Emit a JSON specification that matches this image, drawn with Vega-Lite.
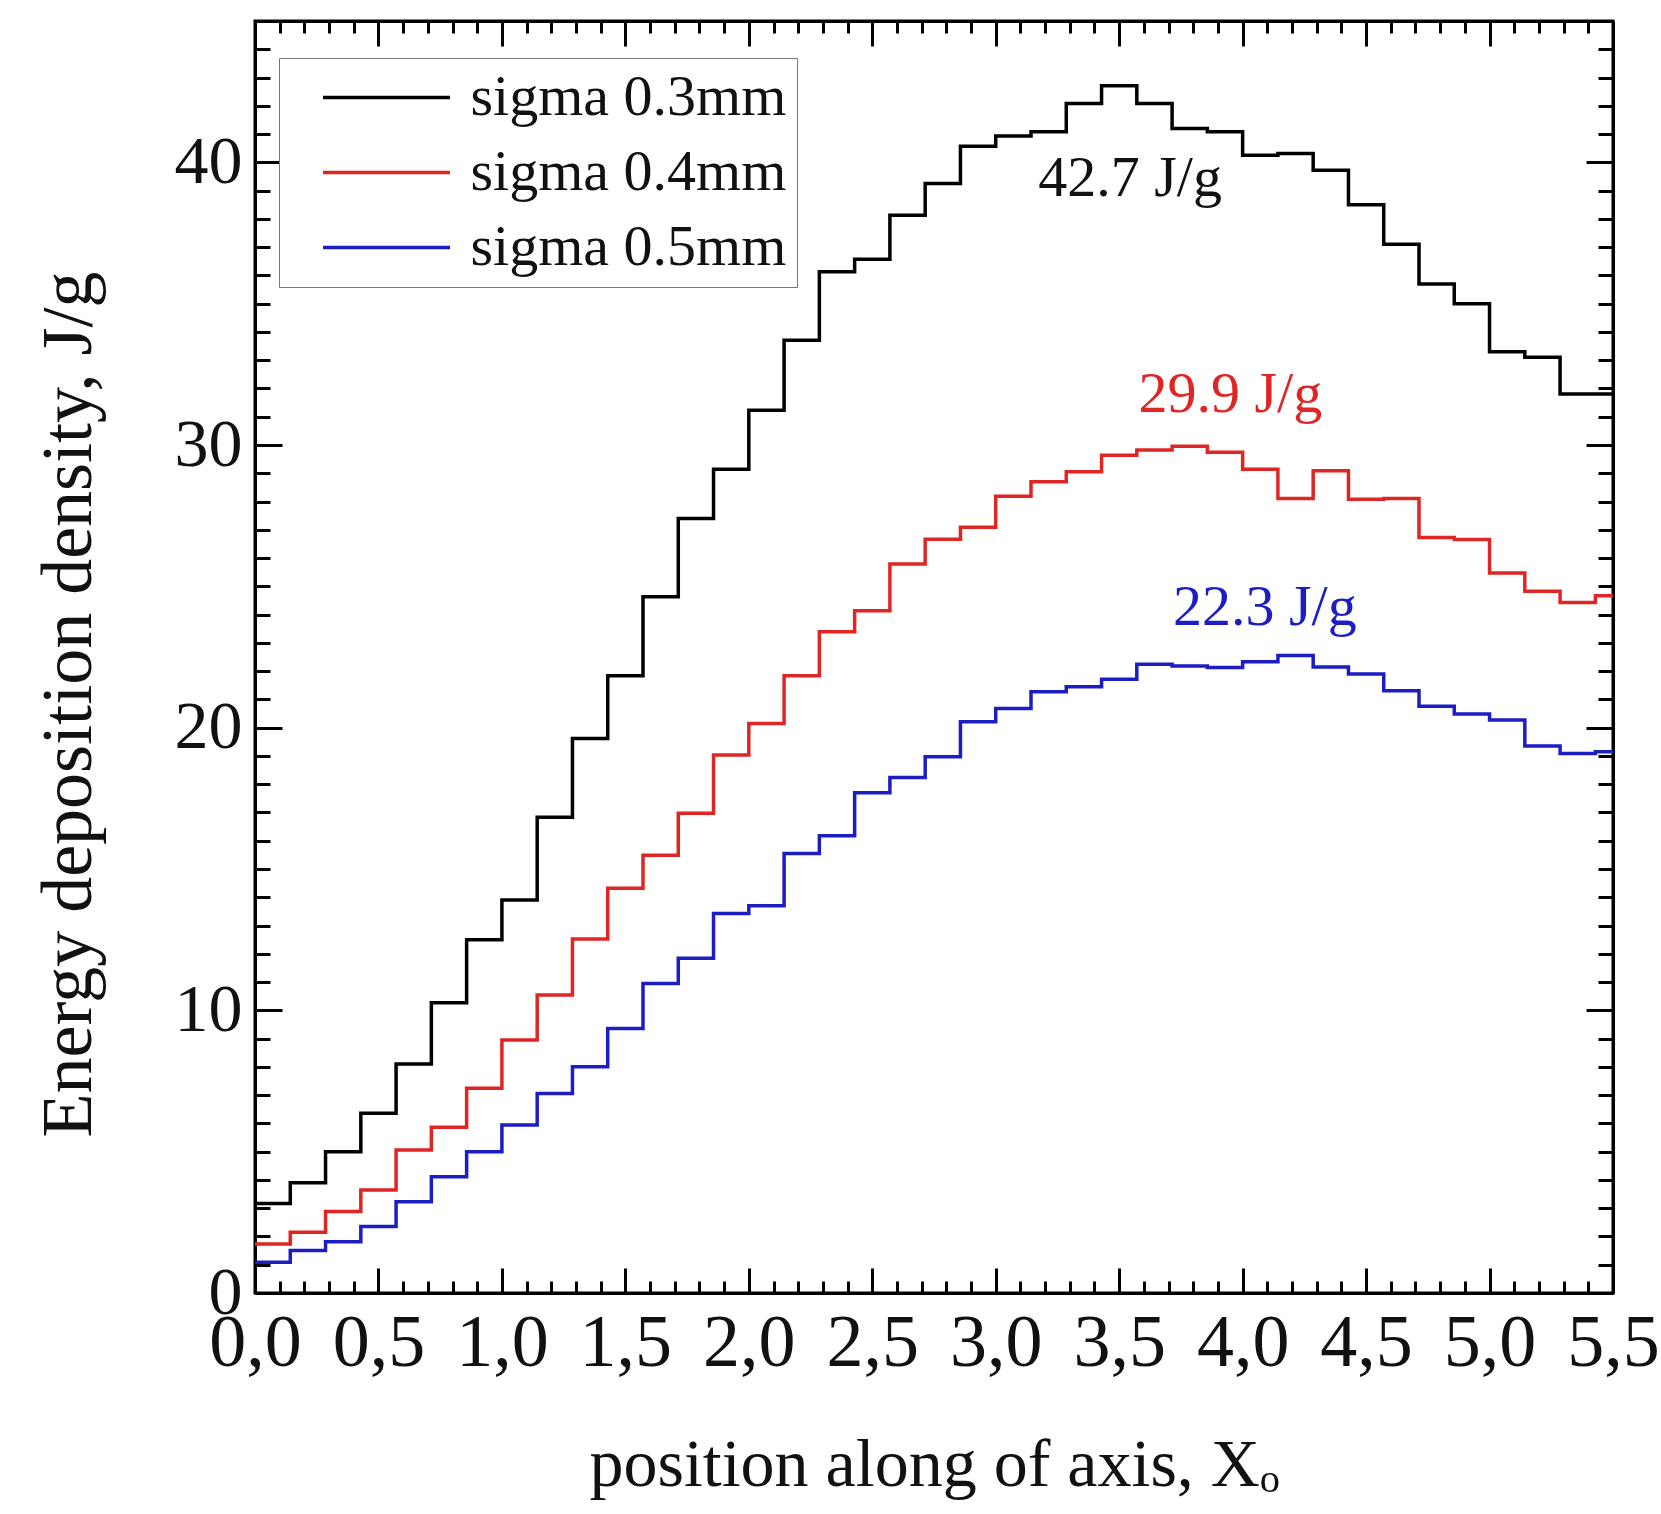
{
  "$schema": "https://vega.github.io/schema/vega-lite/v6.json",
  "width": 1358,
  "height": 1272,
  "autosize": {"type": "none"},
  "padding": {"left": 255, "top": 21, "right": 48, "bottom": 221},
  "background": "white",
  "config": {
    "view": {"stroke": "black", "strokeWidth": 3},
    "font": "Liberation Serif",
    "axis": {
      "grid": false,
      "domainColor": "black",
      "domainWidth": 3,
      "tickColor": "black",
      "tickWidth": 3,
      "labelFont": "Liberation Serif",
      "labelColor": "#111111",
      "titleFont": "Liberation Serif",
      "titleFontWeight": "normal",
      "titleColor": "#111111",
      "labelFlush": false,
      "labelOverlap": false
    }
  },
  "datasets": {
    "series": [
      {"x": 0, "s": "sigma 0.3mm", "e": 3.17},
      {"x": 0.1429, "s": "sigma 0.3mm", "e": 3.9},
      {"x": 0.2857, "s": "sigma 0.3mm", "e": 5.0},
      {"x": 0.4286, "s": "sigma 0.3mm", "e": 6.36},
      {"x": 0.5714, "s": "sigma 0.3mm", "e": 8.1},
      {"x": 0.7143, "s": "sigma 0.3mm", "e": 10.27},
      {"x": 0.8571, "s": "sigma 0.3mm", "e": 12.5},
      {"x": 1, "s": "sigma 0.3mm", "e": 13.9},
      {"x": 1.1429, "s": "sigma 0.3mm", "e": 16.83},
      {"x": 1.2857, "s": "sigma 0.3mm", "e": 19.62},
      {"x": 1.4286, "s": "sigma 0.3mm", "e": 21.84},
      {"x": 1.5714, "s": "sigma 0.3mm", "e": 24.63},
      {"x": 1.7143, "s": "sigma 0.3mm", "e": 27.4},
      {"x": 1.8571, "s": "sigma 0.3mm", "e": 29.14},
      {"x": 2, "s": "sigma 0.3mm", "e": 31.23},
      {"x": 2.1429, "s": "sigma 0.3mm", "e": 33.71},
      {"x": 2.2857, "s": "sigma 0.3mm", "e": 36.13},
      {"x": 2.4286, "s": "sigma 0.3mm", "e": 36.57},
      {"x": 2.5714, "s": "sigma 0.3mm", "e": 38.13},
      {"x": 2.7143, "s": "sigma 0.3mm", "e": 39.25},
      {"x": 2.8571, "s": "sigma 0.3mm", "e": 40.57},
      {"x": 3, "s": "sigma 0.3mm", "e": 40.93},
      {"x": 3.1429, "s": "sigma 0.3mm", "e": 41.08},
      {"x": 3.2857, "s": "sigma 0.3mm", "e": 42.08},
      {"x": 3.4286, "s": "sigma 0.3mm", "e": 42.71},
      {"x": 3.5714, "s": "sigma 0.3mm", "e": 42.08},
      {"x": 3.7143, "s": "sigma 0.3mm", "e": 41.2},
      {"x": 3.8571, "s": "sigma 0.3mm", "e": 41.08},
      {"x": 4, "s": "sigma 0.3mm", "e": 40.25},
      {"x": 4.1429, "s": "sigma 0.3mm", "e": 40.31},
      {"x": 4.2857, "s": "sigma 0.3mm", "e": 39.72},
      {"x": 4.4286, "s": "sigma 0.3mm", "e": 38.5},
      {"x": 4.5714, "s": "sigma 0.3mm", "e": 37.1},
      {"x": 4.7143, "s": "sigma 0.3mm", "e": 35.7},
      {"x": 4.8571, "s": "sigma 0.3mm", "e": 35.0},
      {"x": 5, "s": "sigma 0.3mm", "e": 33.3},
      {"x": 5.1429, "s": "sigma 0.3mm", "e": 33.1},
      {"x": 5.2857, "s": "sigma 0.3mm", "e": 31.8},
      {"x": 5.4286, "s": "sigma 0.3mm", "e": 31.8},
      {"x": 5.5, "s": "sigma 0.3mm", "e": 31.8},
      {"x": 0, "s": "sigma 0.4mm", "e": 1.73},
      {"x": 0.1429, "s": "sigma 0.4mm", "e": 2.15},
      {"x": 0.2857, "s": "sigma 0.4mm", "e": 2.88},
      {"x": 0.4286, "s": "sigma 0.4mm", "e": 3.64},
      {"x": 0.5714, "s": "sigma 0.4mm", "e": 5.06},
      {"x": 0.7143, "s": "sigma 0.4mm", "e": 5.86},
      {"x": 0.8571, "s": "sigma 0.4mm", "e": 7.24},
      {"x": 1, "s": "sigma 0.4mm", "e": 8.95},
      {"x": 1.1429, "s": "sigma 0.4mm", "e": 10.54},
      {"x": 1.2857, "s": "sigma 0.4mm", "e": 12.52},
      {"x": 1.4286, "s": "sigma 0.4mm", "e": 14.32},
      {"x": 1.5714, "s": "sigma 0.4mm", "e": 15.49},
      {"x": 1.7143, "s": "sigma 0.4mm", "e": 16.97},
      {"x": 1.8571, "s": "sigma 0.4mm", "e": 19.03},
      {"x": 2, "s": "sigma 0.4mm", "e": 20.15},
      {"x": 2.1429, "s": "sigma 0.4mm", "e": 21.84},
      {"x": 2.2857, "s": "sigma 0.4mm", "e": 23.39},
      {"x": 2.4286, "s": "sigma 0.4mm", "e": 24.14},
      {"x": 2.5714, "s": "sigma 0.4mm", "e": 25.79},
      {"x": 2.7143, "s": "sigma 0.4mm", "e": 26.67},
      {"x": 2.8571, "s": "sigma 0.4mm", "e": 27.09},
      {"x": 3, "s": "sigma 0.4mm", "e": 28.19},
      {"x": 3.1429, "s": "sigma 0.4mm", "e": 28.7},
      {"x": 3.2857, "s": "sigma 0.4mm", "e": 29.05},
      {"x": 3.4286, "s": "sigma 0.4mm", "e": 29.64},
      {"x": 3.5714, "s": "sigma 0.4mm", "e": 29.82},
      {"x": 3.7143, "s": "sigma 0.4mm", "e": 29.96},
      {"x": 3.8571, "s": "sigma 0.4mm", "e": 29.74},
      {"x": 4, "s": "sigma 0.4mm", "e": 29.14},
      {"x": 4.1429, "s": "sigma 0.4mm", "e": 28.11},
      {"x": 4.2857, "s": "sigma 0.4mm", "e": 29.09},
      {"x": 4.4286, "s": "sigma 0.4mm", "e": 28.08},
      {"x": 4.5714, "s": "sigma 0.4mm", "e": 28.11},
      {"x": 4.7143, "s": "sigma 0.4mm", "e": 26.73},
      {"x": 4.8571, "s": "sigma 0.4mm", "e": 26.66},
      {"x": 5, "s": "sigma 0.4mm", "e": 25.47},
      {"x": 5.1429, "s": "sigma 0.4mm", "e": 24.83},
      {"x": 5.2857, "s": "sigma 0.4mm", "e": 24.43},
      {"x": 5.4286, "s": "sigma 0.4mm", "e": 24.67},
      {"x": 5.5, "s": "sigma 0.4mm", "e": 24.67},
      {"x": 0, "s": "sigma 0.5mm", "e": 1.09},
      {"x": 0.1429, "s": "sigma 0.5mm", "e": 1.5},
      {"x": 0.2857, "s": "sigma 0.5mm", "e": 1.81},
      {"x": 0.4286, "s": "sigma 0.5mm", "e": 2.35},
      {"x": 0.5714, "s": "sigma 0.5mm", "e": 3.23},
      {"x": 0.7143, "s": "sigma 0.5mm", "e": 4.11},
      {"x": 0.8571, "s": "sigma 0.5mm", "e": 5.0},
      {"x": 1, "s": "sigma 0.5mm", "e": 5.94},
      {"x": 1.1429, "s": "sigma 0.5mm", "e": 7.06},
      {"x": 1.2857, "s": "sigma 0.5mm", "e": 8.0},
      {"x": 1.4286, "s": "sigma 0.5mm", "e": 9.36},
      {"x": 1.5714, "s": "sigma 0.5mm", "e": 10.95},
      {"x": 1.7143, "s": "sigma 0.5mm", "e": 11.84},
      {"x": 1.8571, "s": "sigma 0.5mm", "e": 13.43},
      {"x": 2, "s": "sigma 0.5mm", "e": 13.7},
      {"x": 2.1429, "s": "sigma 0.5mm", "e": 15.55},
      {"x": 2.2857, "s": "sigma 0.5mm", "e": 16.18},
      {"x": 2.4286, "s": "sigma 0.5mm", "e": 17.7},
      {"x": 2.5714, "s": "sigma 0.5mm", "e": 18.24},
      {"x": 2.7143, "s": "sigma 0.5mm", "e": 18.97},
      {"x": 2.8571, "s": "sigma 0.5mm", "e": 20.21},
      {"x": 3, "s": "sigma 0.5mm", "e": 20.68},
      {"x": 3.1429, "s": "sigma 0.5mm", "e": 21.27},
      {"x": 3.2857, "s": "sigma 0.5mm", "e": 21.45},
      {"x": 3.4286, "s": "sigma 0.5mm", "e": 21.71},
      {"x": 3.5714, "s": "sigma 0.5mm", "e": 22.24},
      {"x": 3.7143, "s": "sigma 0.5mm", "e": 22.18},
      {"x": 3.8571, "s": "sigma 0.5mm", "e": 22.13},
      {"x": 4, "s": "sigma 0.5mm", "e": 22.33},
      {"x": 4.1429, "s": "sigma 0.5mm", "e": 22.55},
      {"x": 4.2857, "s": "sigma 0.5mm", "e": 22.15},
      {"x": 4.4286, "s": "sigma 0.5mm", "e": 21.9},
      {"x": 4.5714, "s": "sigma 0.5mm", "e": 21.31},
      {"x": 4.7143, "s": "sigma 0.5mm", "e": 20.76},
      {"x": 4.8571, "s": "sigma 0.5mm", "e": 20.48},
      {"x": 5, "s": "sigma 0.5mm", "e": 20.27},
      {"x": 5.1429, "s": "sigma 0.5mm", "e": 19.35},
      {"x": 5.2857, "s": "sigma 0.5mm", "e": 19.09},
      {"x": 5.4286, "s": "sigma 0.5mm", "e": 19.15},
      {"x": 5.5, "s": "sigma 0.5mm", "e": 19.15}
    ],
    "notes": [
      {"x": 3.544, "y": 38.8, "label": "42.7 J/g", "s": "sigma 0.3mm"},
      {"x": 3.95, "y": 31.15, "label": "29.9 J/g", "s": "sigma 0.4mm"},
      {"x": 4.09, "y": 23.63, "label": "22.3 J/g", "s": "sigma 0.5mm"}
    ]
  },
  "resolve": {"axis": {"x": "independent", "y": "independent"}},
  "layer": [
    {
      "data": {"name": "series"},
      "mark": {"type": "line", "interpolate": "step-after", "strokeWidth": 3.5, "clip": true},
      "encoding": {
        "x": {
          "field": "x", "type": "quantitative",
          "scale": {"domain": [0, 5.5], "nice": false, "zero": false},
          "axis": {
            "orient": "bottom",
            "values": [0,0.1,0.2,0.3,0.4,0.5,0.6,0.7,0.8,0.9,1,1.1,1.2,1.3,1.4,1.5,1.6,1.7,1.8,1.9,2,2.1,2.2,2.3,2.4,2.5,2.6,2.7,2.8,2.9,3,3.1,3.2,3.3,3.4,3.5,3.6,3.7,3.8,3.9,4,4.1,4.2,4.3,4.4,4.5,4.6,4.7,4.8,4.9,5,5.1,5.2,5.3,5.4,5.5],
            "labelExpr": "abs(datum.value*2 - round(datum.value*2)) < 0.001 ? replace(format(datum.value, '.1f'), '.', ',') : ''",
            "tickSize": {"condition": {"test": "abs(datum.value*2 - round(datum.value*2)) < 0.001", "value": -25}, "value": -12},
            "labelFontSize": 74,
            "labelPadding": 39,
            "labelBaseline": "top",
            "title": "position along of axis, Xₒ",
            "titleFontSize": 68,
            "titleBaseline": "alphabetic",
            "titleY": 192
          }
        },
        "y": {
          "field": "e", "type": "quantitative",
          "scale": {"domain": [0, 45], "nice": false, "zero": true},
          "axis": {
            "orient": "left",
            "values": [0,1,2,3,4,5,6,7,8,9,10,11,12,13,14,15,16,17,18,19,20,21,22,23,24,25,26,27,28,29,30,31,32,33,34,35,36,37,38,39,40,41,42,43,44,45],
            "labelExpr": "datum.value % 10 === 0 ? datum.label : ''",
            "tickSize": {"condition": {"test": "datum.value % 10 === 0", "value": -27}, "value": -15},
            "labelFontSize": 68,
            "labelPadding": 40,
            "title": "Energy deposition density, J/g",
            "titleFontSize": 72,
            "titleAngle": 270,
            "titleX": -165,
            "titleY": 683,
            "titleAlign": "center",
            "titleBaseline": "alphabetic"
          }
        },
        "color": {
          "field": "s", "type": "nominal",
          "scale": {"domain": ["sigma 0.3mm", "sigma 0.4mm", "sigma 0.5mm"], "range": ["#000000", "#e02525", "#1d1dc4"]},
          "legend": {
            "orient": "none",
            "legendX": 24,
            "legendY": 37,
            "title": null,
            "symbolType": "M-2.352,0H2.352",
            "symbolSize": 2916,
            "symbolStrokeWidth": 3.5,
            "labelFont": "Liberation Serif",
            "labelFontSize": 58,
            "labelColor": "#111111",
            "labelLimit": 0,
            "labelOffset": 55,
            "symbolOffset": 68,
            "padding": 10.5,
            "rowPadding": 17,
            "strokeColor": "#777777",
            "fillColor": "white"
          }
        }
      }
    },
    {
      "data": {"name": "notes"},
      "transform": [{"filter": "datum.s === 'sigma 0.3mm'"}],
      "mark": {"type": "text", "fontSize": 58, "font": "Liberation Serif", "color": "#111111", "align": "center", "baseline": "alphabetic"},
      "encoding": {
        "x": {
          "field": "x", "type": "quantitative",
          "scale": {"domain": [0, 5.5], "nice": false, "zero": false},
          "axis": {
            "orient": "top",
            "values": [0,0.1,0.2,0.3,0.4,0.5,0.6,0.7,0.8,0.9,1,1.1,1.2,1.3,1.4,1.5,1.6,1.7,1.8,1.9,2,2.1,2.2,2.3,2.4,2.5,2.6,2.7,2.8,2.9,3,3.1,3.2,3.3,3.4,3.5,3.6,3.7,3.8,3.9,4,4.1,4.2,4.3,4.4,4.5,4.6,4.7,4.8,4.9,5,5.1,5.2,5.3,5.4,5.5],
            "labels": false,
            "title": null,
            "tickSize": {"condition": {"test": "abs(datum.value*2 - round(datum.value*2)) < 0.001", "value": -25}, "value": -12}
          }
        },
        "y": {
          "field": "y", "type": "quantitative",
          "scale": {"domain": [0, 45], "nice": false, "zero": true},
          "axis": {
            "orient": "right",
            "values": [0,1,2,3,4,5,6,7,8,9,10,11,12,13,14,15,16,17,18,19,20,21,22,23,24,25,26,27,28,29,30,31,32,33,34,35,36,37,38,39,40,41,42,43,44,45],
            "labels": false,
            "title": null,
            "tickSize": {"condition": {"test": "datum.value % 10 === 0", "value": -27}, "value": -15}
          }
        },
        "text": {"field": "label", "type": "nominal"}
      }
    },
    {
      "data": {"name": "notes"},
      "transform": [{"filter": "datum.s === 'sigma 0.4mm'"}],
      "mark": {"type": "text", "fontSize": 58, "font": "Liberation Serif", "color": "#e02525", "align": "center", "baseline": "alphabetic"},
      "encoding": {
        "x": {"field": "x", "type": "quantitative", "axis": null},
        "y": {"field": "y", "type": "quantitative", "axis": null},
        "text": {"field": "label", "type": "nominal"}
      }
    },
    {
      "data": {"name": "notes"},
      "transform": [{"filter": "datum.s === 'sigma 0.5mm'"}],
      "mark": {"type": "text", "fontSize": 58, "font": "Liberation Serif", "color": "#1d1dc4", "align": "center", "baseline": "alphabetic"},
      "encoding": {
        "x": {"field": "x", "type": "quantitative", "axis": null},
        "y": {"field": "y", "type": "quantitative", "axis": null},
        "text": {"field": "label", "type": "nominal"}
      }
    }
  ]
}
